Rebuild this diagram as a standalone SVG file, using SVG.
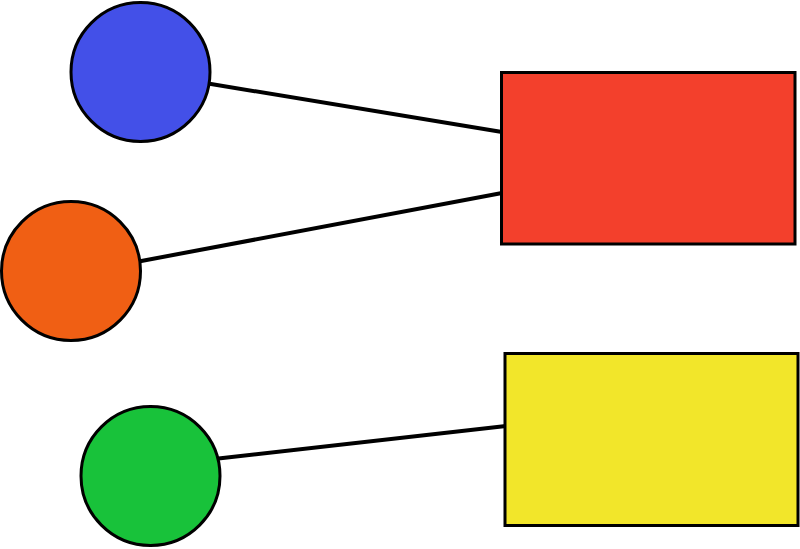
<svg xmlns="http://www.w3.org/2000/svg" width="800" height="549" viewBox="0 0 800 549">
<style>
.node{stroke:#000;stroke-width:3}
.edge{stroke:#000;stroke-width:4;fill:none}
</style>
<rect width="800" height="549" fill="#fff"/>
<g id="connectors">
<line class="edge" x1="205" y1="83" x2="502" y2="132"/>
<line class="edge" x1="136" y1="262" x2="502" y2="193"/>
<line class="edge" x1="214" y1="459" x2="506" y2="426"/>
</g>
<g id="blue-circle"><circle class="node" cx="140.5" cy="72" r="69.5" fill="#4350e8"/></g>
<g id="orange-circle"><circle class="node" cx="71" cy="271" r="69.5" fill="#f05f14"/></g>
<g id="green-circle"><circle class="node" cx="150.5" cy="476" r="69.5" fill="#18c23a"/></g>
<g id="red-rect"><rect class="node" x="501.5" y="72.5" width="293.5" height="171.5" fill="#f3402c"/></g>
<g id="yellow-rect"><rect class="node" x="505" y="353.5" width="293" height="172" fill="#f2e62a"/></g>
</svg>
